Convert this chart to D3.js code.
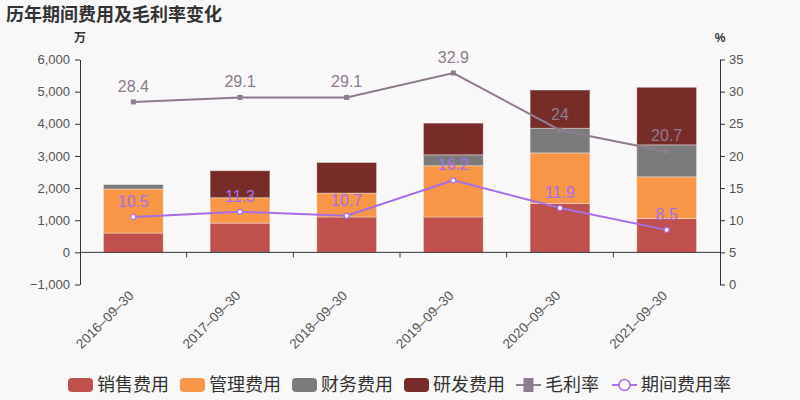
<!DOCTYPE html>
<html>
<head>
<meta charset="utf-8">
<script src="https://cdn.jsdelivr.net/npm/d3@7"></script>
<style>
  body { margin: 0; background: #f8f8f8; }
  svg { font-family: "Liberation Sans", "Noto Sans CJK SC", sans-serif; }
</style>
</head>
<body>
<div id="chart"></div>
<script>
const width = 800;
const height = 400;

// data (万 / %)
const years = ["2016-09-30", "2017-09-30", "2018-09-30", "2019-09-30", "2020-09-30", "2021-09-30"];
const sales = [600, 910, 1100, 1100, 1520, 1055];       // 销售费用
const admin = [1370, 790, 745, 1595, 1575, 1295];       // 管理费用
const finance = [140, -20, -15, 340, 765, 995];         // 财务费用
const rnd = [0, 840, 950, 985, 1190, 1790];             // 研发费用
const grossMargin = [28.4, 29.1, 29.1, 32.9, 24, 20.7]; // 毛利率
const expenseRate = [10.5, 11.3, 10.7, 16.2, 11.9, 8.5]; // 期间费用率

const seriesNames = ["销售费用", "管理费用", "财务费用", "研发费用"];
const seriesColors = ["#c0504d", "#f79646", "#7b7b7b", "#772c2a"];
const gmColor = "#8f7b8e";
const erColor = "#a86ee6";

const gridLeft = 80, gridRight = 720, gridTop = 59.5, gridBottom = 284.5;

const x = d3.scaleBand().domain(years).range([gridLeft, gridRight]);
const yL = d3.scaleLinear().domain([-1000, 6000]).range([gridBottom, gridTop]);
const yR = d3.scaleLinear().domain([0, 35]).range([gridBottom, gridTop]);
const barW = x.bandwidth() * 0.56;
const cx = d => x(d) + x.bandwidth() / 2;

const svg = d3.select("#chart").append("svg")
    .attr("width", width).attr("height", height);

svg.append("rect").attr("width", width).attr("height", height).attr("fill", "#f8f8f8");

// title
svg.append("text").attr("x", 6).attr("y", 21)
    .attr("font-size", 18).attr("font-weight", "bold").attr("fill", "#333")
    .text("历年期间费用及毛利率变化");

svg.append("text").attr("x", gridLeft).attr("y", 42).attr("text-anchor", "middle")
    .attr("font-size", 12).attr("font-weight", "bold").attr("fill", "#333").text("万");
svg.append("text").attr("x", gridRight).attr("y", 42).attr("text-anchor", "middle")
    .attr("font-size", 12).attr("font-weight", "bold").attr("fill", "#333").text("%");

// stacked bars
const rows = years.map((y, i) => ({ year: y, s0: sales[i], s1: admin[i], s2: finance[i], s3: rnd[i] }));
const stack = d3.stack().keys(["s0", "s1", "s2", "s3"]).offset(d3.stackOffsetDiverging)(rows);

svg.append("g").selectAll("g")
    .data(stack)
    .join("g")
    .attr("fill", (d, i) => seriesColors[i])
    .selectAll("rect")
    .data(d => d.filter(p => p[1] !== p[0]))
    .join("rect")
    .attr("x", d => cx(d.data.year) - barW / 2)
    .attr("width", barW)
    .attr("y", d => yL(Math.max(d[0], d[1])))
    .attr("height", d => Math.abs(yL(d[0]) - yL(d[1])))
    .attr("stroke", "#fff")
    .attr("stroke-opacity", 0.35)
    .attr("stroke-width", 1);

// axes
const axisStyle = g => {
    g.selectAll("path, line").attr("stroke", "#333");
    g.selectAll("text").attr("fill", "#555").attr("font-size", 13);
};

svg.append("g")
    .attr("transform", `translate(${gridLeft},0)`)
    .call(d3.axisLeft(yL).tickValues(d3.range(-1000, 6001, 1000)).tickSize(5).tickSizeOuter(0).tickPadding(5)
        .tickFormat(d => d < 0 ? "−" + d3.format(",")(-d) : d3.format(",")(d)))
    .call(axisStyle);

svg.append("g")
    .attr("transform", `translate(${gridRight},0)`)
    .call(d3.axisRight(yR).tickValues(d3.range(0, 36, 5)).tickSize(5).tickSizeOuter(0).tickPadding(4))
    .call(axisStyle);

// category axis sits on zero
const xg = svg.append("g").attr("transform", `translate(0,${yL(0)})`);
xg.append("line").attr("x1", gridLeft).attr("x2", gridRight).attr("stroke", "#333");
xg.selectAll(".tk")
    .data(years.slice(1))
    .join("line")
    .attr("x1", d => x(d)).attr("x2", d => x(d))
    .attr("y1", 0).attr("y2", 5).attr("stroke", "#333");

svg.append("g").selectAll("text")
    .data(years)
    .join("text")
    .attr("transform", d => `translate(${cx(d) - 2},${293}) rotate(-45)`)
    .attr("text-anchor", "end")
    .attr("dy", "0.35em")
    .attr("font-size", 13.5)
    .attr("fill", "#555")
    .text(d => d.replace(/-/g, "–"));

// lines
const drawLine = (values, color, marker) => {
    const pts = values.map((v, i) => ({ x: cx(years[i]), y: yR(v), v }));
    svg.append("path")
        .datum(pts)
        .attr("d", d3.line().x(d => d.x).y(d => d.y))
        .attr("fill", "none")
        .attr("stroke", color)
        .attr("stroke-width", 2);
    const g = svg.append("g");
    if (marker === "square") {
        g.selectAll("rect").data(pts).join("rect")
            .attr("x", d => d.x - 2.5).attr("y", d => d.y - 2.5)
            .attr("width", 5).attr("height", 5).attr("fill", color);
    } else {
        g.selectAll("circle").data(pts).join("circle")
            .attr("cx", d => d.x).attr("cy", d => d.y).attr("r", 2.5)
            .attr("fill", "#fff").attr("stroke", color).attr("stroke-width", 1.2);
    }
    svg.append("g").selectAll("text").data(pts).join("text")
        .attr("x", d => d.x).attr("y", d => d.y - 10)
        .attr("text-anchor", "middle")
        .attr("font-size", 16)
        .attr("fill", color)
        .text(d => d.v);
};
drawLine(grossMargin, gmColor, "square");
drawLine(expenseRate, erColor, "circle");

// legend
const legendItems = [
    { name: "销售费用", type: "bar", color: seriesColors[0] },
    { name: "管理费用", type: "bar", color: seriesColors[1] },
    { name: "财务费用", type: "bar", color: seriesColors[2] },
    { name: "研发费用", type: "bar", color: seriesColors[3] },
    { name: "毛利率", type: "square", color: gmColor },
    { name: "期间费用率", type: "circle", color: erColor }
];
const legendX = [68, 180, 292, 404, 516, 612];
const ly = 385;
const lg = svg.append("g");
legendItems.forEach((it, i) => {
    const g = lg.append("g").attr("transform", `translate(${legendX[i]},${ly})`);
    if (it.type === "bar") {
        g.append("rect").attr("x", 0).attr("y", -7).attr("width", 25).attr("height", 14)
            .attr("rx", 4).attr("fill", it.color);
    } else {
        g.append("line").attr("x1", 0).attr("x2", 25).attr("stroke", it.color).attr("stroke-width", 2);
        if (it.type === "square") {
            g.append("rect").attr("x", 7.5).attr("y", -7).attr("width", 10).attr("height", 14).attr("fill", it.color);
        } else {
            g.append("circle").attr("cx", 12.5).attr("r", 5.5).attr("fill", "#fff")
                .attr("stroke", it.color).attr("stroke-width", 1.5);
        }
    }
    g.append("text").attr("x", 29).attr("y", 0).attr("dy", "0.35em")
        .attr("font-size", 18).attr("fill", "#333").text(it.name);
});
</script>
</body>
</html>
